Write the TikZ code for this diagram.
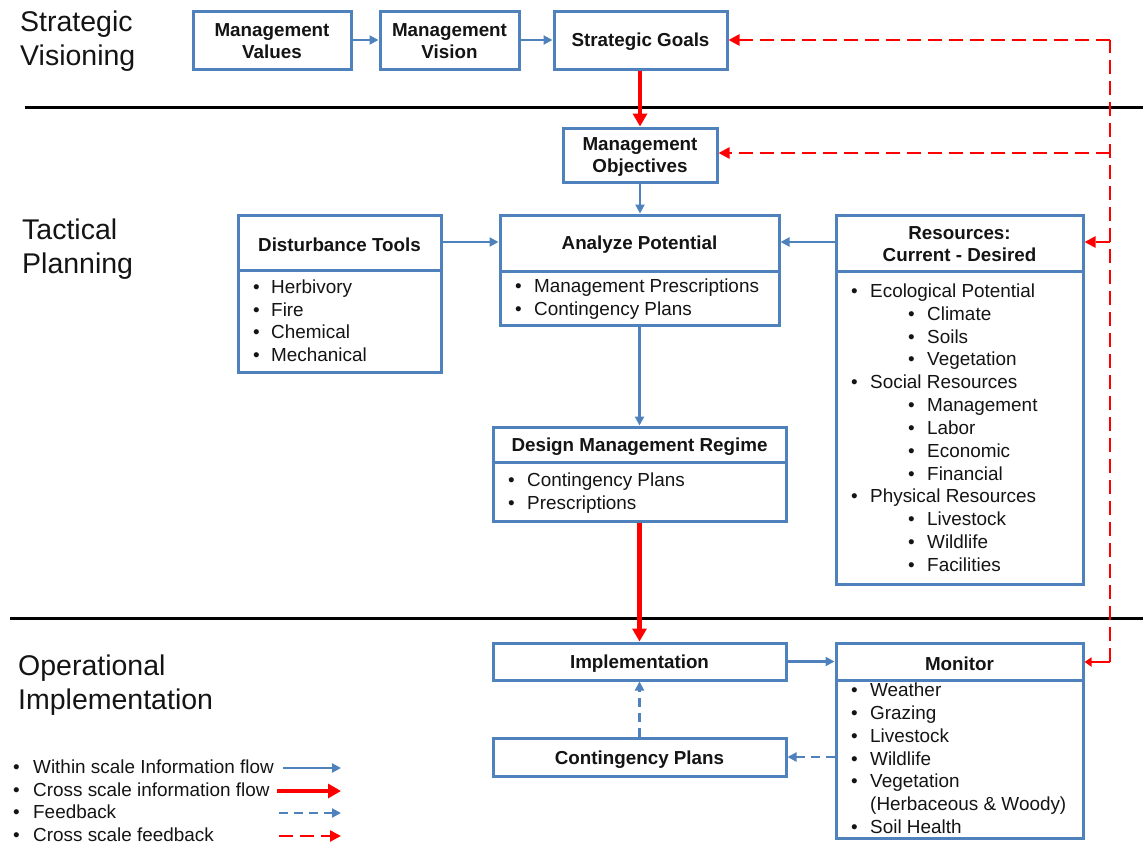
\documentclass[tikz,border=0pt]{standalone}
\usepackage{fontspec}
\setmainfont{Liberation Sans}
\usetikzlibrary{arrows.meta}
\definecolor{boxblue}{RGB}{79,129,189}
\definecolor{flowred}{RGB}{255,0,0}
\definecolor{ink}{RGB}{20,20,20}

\tikzset{
  box/.style={draw=boxblue, line width=3pt, inner sep=0pt, fill=white},
  ttl/.style={font=\bfseries\fontsize{18.8}{22}\selectfont, align=center, inner sep=0pt, text=ink, yshift=-1.5pt},
  itm/.style={font=\fontsize{18.9}{22}\selectfont, anchor=base west, inner sep=0pt, text=ink},
  divider/.style={draw=boxblue, line width=3pt},
  sepline/.style={draw=black, line width=3pt},
  scalelabel/.style={font=\fontsize{28.5}{34}\selectfont, anchor=base west, inner sep=0pt, text=ink},
  bflow/.style={draw=boxblue, line width=2.2pt, -{Triangle[length=9pt,width=9pt]}},
  rflow/.style={draw=flowred, line width=4.5pt, -{Triangle[length=13pt,width=14pt]}},
  bfeed/.style={bflow, dash pattern=on 9pt off 6pt},
  rfeed/.style={draw=flowred, line width=2.5pt, dash pattern=on 14pt off 7pt, -{Triangle[length=11pt,width=11pt]}},
  rfeedline/.style={draw=flowred, line width=2.5pt, dash pattern=on 14pt off 7pt}
}

\begin{document}
\begin{tikzpicture}[x=1pt,y=-1pt]
\useasboundingbox (0,0) rectangle (1143,846);

% scale separators
\draw[sepline] (25,107) -- (1143,107);
\draw[sepline] (10,618) -- (1143,618);

% scale labels
\node[scalelabel] (sv1) at (20,31.5) {Strategic};
\node[scalelabel] (sv2) at (20,65) {Visioning};
\node[scalelabel] (tp1) at (22,239.5) {Tactical};
\node[scalelabel] (tp2) at (22,273.5) {Planning};
\node[scalelabel] (oi1) at (18,675.5) {Operational};
\node[scalelabel] (oi2) at (18,709.5) {Implementation};

% strategic boxes
\node[box, minimum width=158, minimum height=58] (mv) at (272,40) {};
\node[ttl] (mvt) at (272,40) {Management\\Values};
\node[box, minimum width=139, minimum height=58] (mvis) at (449.5,40) {};
\node[ttl] (mvist) at (449.5,40) {Management\\Vision};
\node[box, minimum width=173, minimum height=58] (sg) at (640.5,40) {};
\node[ttl] (sgt) at (640.5,40) {Strategic Goals};

% tactical boxes
\node[box, minimum width=154, minimum height=54] (mo) at (640,155) {};
\node[ttl] (mot) at (640,155) {Management\\Objectives};

\node[box, minimum width=203, minimum height=157] (dt) at (339.5,293.5) {};
\draw[divider] (dt.west |- 0,270) -- (dt.east |- 0,270);
\node[ttl] (dtt) at (339.5,243) {Disturbance Tools};
\foreach \t [count=\i from 0] in {Herbivory,Fire,Chemical,Mechanical} {
  \node[itm] (dt-\i) at (271,293.5+22.67*\i) {\t};
  \node[itm] (dtb-\i) at (253,293.5+22.67*\i) {•};
}

\node[box, minimum width=279, minimum height=110] (ap) at (639.5,270) {};
\draw[divider] (ap.west |- 0,271) -- (ap.east |- 0,271);
\node[ttl] (apt) at (639.5,243) {Analyze Potential};
\foreach \t [count=\i from 0] in {Management Prescriptions,Contingency Plans} {
  \node[itm] (ap-\i) at (534,292.5+23*\i) {\t};
  \node[itm] (apb-\i) at (515,292.5+23*\i) {•};
}

\node[box, minimum width=247, minimum height=369] (res) at (959.5,399.5) {};
\draw[divider] (res.west |- 0,271) -- (res.east |- 0,271);
\node[ttl] (rest) at (959.5,243) {Resources:\\Current - Desired};
\foreach \x/\t [count=\i from 0] in {870/Ecological Potential,927/Climate,927/Soils,927/Vegetation,
    870/Social Resources,927/Management,927/Labor,927/Economic,927/Financial,
    870/Physical Resources,927/Livestock,927/Wildlife,927/Facilities} {
  \node[itm] (res-\i) at (\x,297.5+22.83*\i) {\t};
  \node[itm] (resb-\i) at (\x-19,297.5+22.83*\i) {•};
}

\node[box, minimum width=293, minimum height=94] (dmr) at (639.5,474) {};
\draw[divider] (dmr.west |- 0,462) -- (dmr.east |- 0,462);
\node[ttl] (dmrt) at (639.5,445) {Design Management Regime};
\foreach \t [count=\i from 0] in {Contingency Plans,Prescriptions} {
  \node[itm] (dmr-\i) at (527,486.5+23*\i) {\t};
  \node[itm] (dmrb-\i) at (508,486.5+23*\i) {•};
}

% operational boxes
\node[box, minimum width=293, minimum height=37] (impl) at (639.5,661.5) {};
\node[ttl] (implt) at (639.5,662) {Implementation};

\node[box, minimum width=293, minimum height=38] (cp) at (639.5,757) {};
\node[ttl] (cpt) at (639.5,758) {Contingency Plans};

\node[box, minimum width=247, minimum height=195] (mon) at (959.5,740.5) {};
\draw[divider] (mon.west |- 0,680) -- (mon.east |- 0,680);
\node[ttl] (mont) at (959.5,662) {Monitor};
\foreach \t [count=\i from 0] in {Weather,Grazing,Livestock,Wildlife,Vegetation} {
  \node[itm] (mon-\i) at (870,696.5+22.83*\i) {\t};
  \node[itm] (monb-\i) at (851,696.5+22.83*\i) {•};
}
\node[itm] (mon-5) at (870,696.5+22.83*5) {(Herbaceous \& Woody)};
\node[itm] (mon-6) at (870,696.5+22.83*6) {Soil Health};
\node[itm] (monb-6) at (851,696.5+22.83*6) {•};

% within scale information flow
\draw[bflow] (mv) -- (mvis);
\draw[bflow] (mvis) -- (sg);
\draw[bflow] (mo.south) -- (mo.south |- ap.north);
\draw[bflow] (dt.east |- 0,242) -- (ap.west |- 0,242);
\draw[bflow] (res.west |- 0,242) -- (ap.east |- 0,242);
\draw[bflow] (ap.south) -- (dmr.north);
\draw[bflow] (impl.east) -- (mon.west |- impl.east);

% cross scale information flow
\draw[rflow] (sg.south -| mo.north) -- (mo.north);
\draw[rflow] (dmr.south) -- (impl.north);

% feedback
\draw[bfeed] (mon.west |- cp.east) -- (cp.east);
\draw[bfeed] (cp.north) -- (impl.south);

% cross scale feedback
\coordinate (fbtop) at (1110,40);
\coordinate (fbbot) at (1110,662);
\draw[rfeedline] (fbbot) -- (fbtop);
\draw[rfeed] (fbtop) -- (sg.east);
\draw[rfeed] (fbtop |- 0,153) -- (mo.east |- 0,153);
\draw[rfeed] (fbtop |- 0,242) -- (res.east |- 0,242);
\draw[draw=flowred, line width=2.5pt, -{Triangle[length=7pt,width=9pt]}] (fbbot) -- (mon.east |- fbbot);

% legend
\foreach \t [count=\i from 0] in {Within scale Information  flow,Cross scale information flow,Feedback,Cross scale feedback} {
  \node[itm] (lg-\i) at (33,773.5+22.67*\i) {\t};
  \node[itm] (lgb-\i) at (13,773.5+22.67*\i) {•};
}
\coordinate (lga0) at (283,768);   \coordinate (lgb0) at (341,768);
\coordinate (lga1) at (277,791);   \coordinate (lgb1) at (341,791);
\coordinate (lga2) at (279,813);   \coordinate (lgb2) at (341,813);
\coordinate (lga3) at (279,836);   \coordinate (lgb3) at (341,836);
\draw[bflow] (lga0) -- (lgb0);
\draw[rflow] (lga1) -- (lgb1);
\draw[bfeed] (lga2) -- (lgb2);
\draw[rfeed] (lga3) -- (lgb3);
\end{tikzpicture}
\end{document}
